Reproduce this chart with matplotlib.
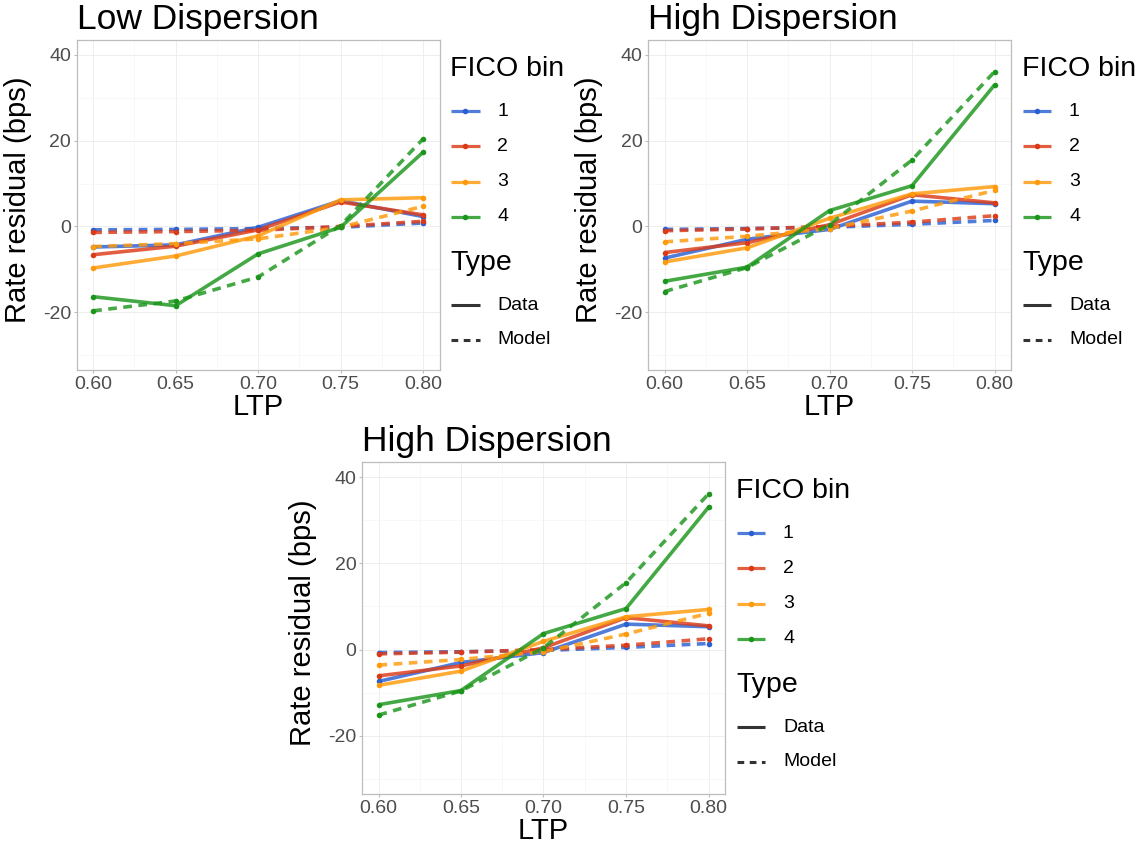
import matplotlib
matplotlib.use("Agg")
import matplotlib.pyplot as plt
from matplotlib.lines import Line2D

plt.rcParams['font.family'] = ['Liberation Sans', 'DejaVu Sans']
plt.rcParams['axes.unicode_minus'] = False

W, H = 1143, 843

# ---------------- data ----------------
ltp = [0.60, 0.65, 0.70, 0.75, 0.80]
fico_bins = ["1", "2", "3", "4"]
type_labels = ["Data", "Model"]
y_ticks = [-20, 0, 20, 40]
x_ticks = [0.60, 0.65, 0.70, 0.75, 0.80]

# Low dispersion
low_data_1 = [-4.8, -4.3, -0.2, 6.0, 2.3]
low_data_2 = [-6.6, -4.6, -0.8, 5.7, 2.7]
low_data_3 = [-9.7, -6.9, -2.2, 6.2, 6.7]
low_data_4 = [-16.4, -18.5, -6.4, -0.2, 17.3]
low_model_1 = [-0.8, -0.7, -0.5, -0.2, 0.8]
low_model_2 = [-1.4, -1.2, -0.9, 0.0, 1.2]
low_model_3 = [-4.7, -4.0, -2.9, -0.2, 4.7]
low_model_4 = [-19.7, -17.4, -11.8, 0.2, 20.4]

# High dispersion
high_data_1 = [-7.4, -3.0, -0.7, 5.9, 5.3]
high_data_2 = [-6.1, -3.8, 0.4, 7.4, 5.5]
high_data_3 = [-8.3, -5.0, 1.9, 7.6, 9.3]
high_data_4 = [-12.8, -9.5, 3.7, 9.5, 33.0]
high_model_1 = [-0.7, -0.5, -0.2, 0.5, 1.4]
high_model_2 = [-1.0, -0.6, 0.0, 1.0, 2.5]
high_model_3 = [-3.6, -2.3, -0.5, 3.6, 8.4]
high_model_4 = [-15.2, -9.6, 0.4, 15.5, 36.1]

low_data = [low_data_1, low_data_2, low_data_3, low_data_4]
low_model = [low_model_1, low_model_2, low_model_3, low_model_4]
high_data = [high_data_1, high_data_2, high_data_3, high_data_4]
high_model = [high_model_1, high_model_2, high_model_3, high_model_4]

colors = ["#2A5FD2", "#DC3A17", "#FF9A0B", "#1B961B"]
DASH = (2.4, 1.8)
LW = 2.6

fig = plt.figure(figsize=(W / 100, H / 100), dpi=100)


def fx(x):
    return x / W


def fy(y):
    return 1 - y / H


def make_panel(l, r, t, b, title, data, model):
    ax = fig.add_axes([fx(l), fy(b), (r - l) / W, (b - t) / H])
    ax.set_xlim(0.59, 0.81)
    ax.set_ylim(-33.5, 43.5)
    ax.set_xticks(x_ticks)
    ax.set_xticklabels([f"{v:.2f}" for v in x_ticks])
    ax.set_yticks(y_ticks)
    ax.set_xticks([0.625, 0.675, 0.725, 0.775], minor=True)
    ax.set_yticks([-30, -10, 10, 30], minor=True)
    ax.grid(which='major', color='#EBEBEB', lw=0.6, zorder=0)
    ax.grid(which='minor', color='#F4F4F4', lw=0.4, zorder=0)
    ax.set_axisbelow(True)
    for s in ax.spines.values():
        s.set_color('#BDBDBD')
        s.set_linewidth(0.9)
    ax.tick_params(which='major', length=2.5, width=0.8, color='#BDBDBD',
                   labelsize=14, labelcolor='#4D4D4D', pad=1.5)
    ax.tick_params(which='minor', length=0)
    for i in range(4):
        ax.plot(ltp, data[i], color=colors[i], lw=LW, alpha=0.82,
                solid_capstyle='butt', zorder=3)
        ax.plot(ltp, data[i], 'o', color=colors[i], ms=4, mew=0, zorder=4)
        ax.plot(ltp, model[i], color=colors[i], lw=LW, alpha=0.82,
                dashes=DASH, dash_capstyle='butt', zorder=3)
        ax.plot(ltp, model[i], 'o', color=colors[i], ms=4, mew=0, zorder=4)

    # title
    fig.text(fx(l), fy(t - 11), title, fontsize=25.5, ha='left', va='baseline')
    # axis labels
    fig.text(fx((l + r) / 2), fy(b + 45), "LTP", fontsize=21, ha='center',
             va='baseline')
    fig.text(fx(l - 59), fy((t + b) / 2 - 5), "Rate residual (bps)",
             fontsize=21, rotation=90, ha='center', va='center')

    # legend
    lx = r + 11
    kx0, kx1 = r + 11.5, r + 40
    tx = r + 58
    fig.text(fx(lx), fy(t + 36), "FICO bin", fontsize=20.5, ha='left',
             va='baseline')
    for i, lab in enumerate(fico_bins):
        yk = t + 71 + i * 35.3
        fig.add_artist(Line2D([fx(kx0), fx(kx1)], [fy(yk), fy(yk)],
                              transform=fig.transFigure, color=colors[i],
                              lw=2.3, alpha=0.82, solid_capstyle='butt'))
        fig.add_artist(Line2D([fx((kx0 + kx1) / 2)], [fy(yk)],
                              transform=fig.transFigure, color=colors[i],
                              marker='o', ms=4, mew=0, lw=0))
        fig.text(fx(tx), fy(yk), lab, fontsize=14, ha='left', va='center')
    fig.text(fx(lx), fy(t + 230), "Type", fontsize=20.5, ha='left',
             va='baseline')
    for j, lab in enumerate(type_labels):
        yk = t + 265 + j * 35
        kw = dict(dashes=(2.2, 1.8), dash_capstyle='butt') if j == 1 else \
            dict(solid_capstyle='butt')
        fig.add_artist(Line2D([fx(kx0), fx(kx1)], [fy(yk), fy(yk)],
                              transform=fig.transFigure, color='#333333',
                              lw=2.2, **kw))
        fig.text(fx(tx), fy(yk), lab, fontsize=14, ha='left', va='center')
    return ax


make_panel(76.7, 439.5, 40, 370, "Low Dispersion", low_data, low_model)
make_panel(648, 1011, 40, 370, "High Dispersion", high_data, high_model)
make_panel(362, 725, 462, 794, "High Dispersion", high_data, high_model)

fig.savefig("out.png", dpi=100)
